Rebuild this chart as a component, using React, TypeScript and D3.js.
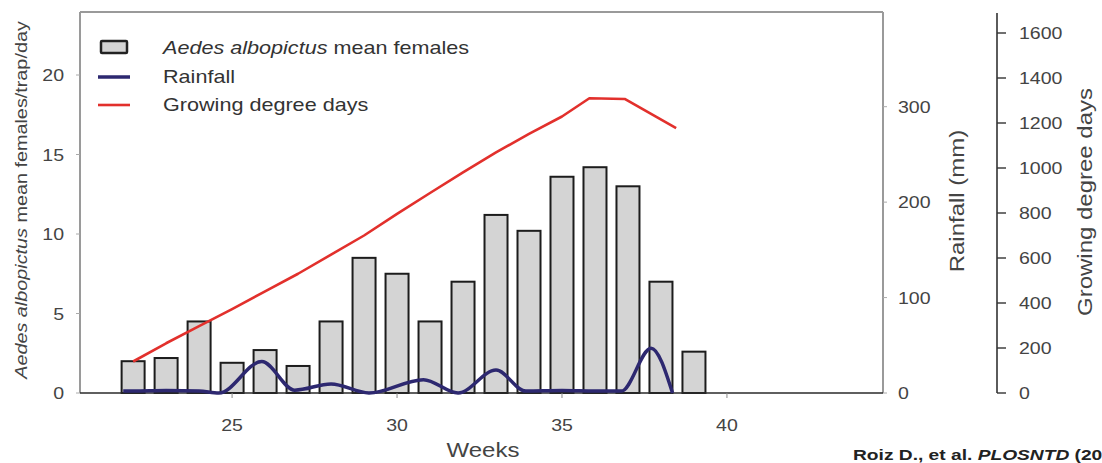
import React from "react";
import * as d3 from "d3";

// ---- data ----
const weeks = [22, 23, 24, 25, 26, 27, 28, 29, 30, 31, 32, 33, 34, 35, 36, 37, 38, 39];
const femaleMeans = [2.0, 2.2, 4.5, 1.9, 2.7, 1.7, 4.5, 8.5, 7.5, 4.5, 7.0, 11.2, 10.2, 13.6, 14.2, 13.0, 7.0, 2.6];

const rainWeeks = [21.7, 22, 23, 24, 24.6, 25.9, 26.9, 28.0, 29.15, 30.8, 31.85, 33.0, 33.9, 35, 36, 36.8, 37.7, 38.35];
const rainfall = [2, 2, 2.5, 2, 0, 33, 3, 9.5, 0, 14, 0, 24, 2, 2.5, 2, 2, 47, 0];

const gddWeeks = [22, 23, 24, 25, 26, 27, 28, 29, 30, 31, 32, 33, 34, 35, 35.83, 36.9, 38.46];
const gdd = [140, 221, 297, 373, 452, 530, 615, 700, 796, 889, 981, 1069, 1152, 1229, 1310, 1307, 1177];

const leftTicks = [0, 5, 10, 15, 20];
const rainTicks = [0, 100, 200, 300];
const gddTicks = [0, 200, 400, 600, 800, 1000, 1200, 1400, 1600];
const weekTicks = [25, 30, 35, 40];

const FONT = "'Liberation Sans', Arial, Helvetica, sans-serif";

export default function App() {
  const W = 1102;
  const H = 463;
  const x0 = 80, x1 = 883, yTop = 12, yBot = 393;
  const x = d3.scaleLinear().domain([20.39, 44.73]).range([x0, x1]);
  const yL = d3.scaleLinear().domain([0, 24]).range([yBot, yBot - 24 * 15.9]);
  const yR = d3.scaleLinear().domain([0, 300]).range([yBot, 106.7]);
  const yG = d3.scaleLinear().domain([0, 1600]).range([yBot, 33]);

  const rainLine = d3
    .line<number>()
    .x((_, i) => x(rainWeeks[i]))
    .y((d) => yR(d))
    .curve(d3.curveMonotoneX)(rainfall) as string;

  const gddLine = d3
    .line<number>()
    .x((_, i) => x(gddWeeks[i]))
    .y((d) => yG(d))(gdd) as string;

  const barW = 23;
  const gAxisX = 997;

  return (
    <svg
      width={W}
      height={H}
      style={{ position: "absolute", left: 0, top: 0, background: "#fff", fontFamily: FONT }}
    >
      <rect x={0} y={0} width={W} height={H} fill="#fff" />

      {/* frame */}
      <line x1={x0} y1={yTop} x2={x1} y2={yTop} stroke="#9a9a9a" strokeWidth={2} />
      <line x1={x0} y1={yTop} x2={x0} y2={yBot} stroke="#9a9a9a" strokeWidth={2} />
      <line x1={x1} y1={yTop} x2={x1} y2={yBot} stroke="#9a9a9a" strokeWidth={2} />

      {/* bars */}
      {weeks.map((w, i) => (
        <rect
          key={w}
          x={x(w) - barW / 2}
          y={yL(femaleMeans[i])}
          width={barW}
          height={yL(0) - yL(femaleMeans[i])}
          fill="#d4d4d4"
          stroke="#1c1c1c"
          strokeWidth={2}
        />
      ))}

      {/* bottom axis */}
      <line x1={x0} y1={yBot} x2={x1} y2={yBot} stroke="#2a2a2a" strokeWidth={1.6} />
      {weekTicks.map((t) => (
        <g key={t}>
          <line x1={x(t)} y1={yBot} x2={x(t)} y2={yBot + 5} stroke="#888" strokeWidth={1} />
          <g transform={`translate(${x(t)},431) scale(1.15,1)`}>
            <text textAnchor="middle" fontSize={17} fill="#444">
              {t}
            </text>
          </g>
        </g>
      ))}
      <g transform={`translate(483,457) scale(1.2,1)`}>
        <text textAnchor="middle" fontSize={20} fill="#444">
          Weeks
        </text>
      </g>

      {/* rainfall line */}
      <path d={rainLine} fill="none" stroke="#2d2870" strokeWidth={3.5} strokeLinejoin="round" />
      {/* GDD line */}
      <path d={gddLine} fill="none" stroke="#e2302c" strokeWidth={2.6} strokeLinejoin="round" />

      {/* left axis */}
      {leftTicks.map((t) => (
        <g key={t}>
          <line x1={x0 - 4} y1={yL(t)} x2={x0} y2={yL(t)} stroke="#aaa" strokeWidth={1} />
          <g transform={`translate(64,${yL(t)}) scale(1.15,1)`}>
            <text textAnchor="end" dy="0.36em" fontSize={17} fill="#444">
              {t}
            </text>
          </g>
        </g>
      ))}
      <g transform={`translate(21,200) rotate(-90) scale(1.2,1)`}>
        <text textAnchor="middle" dy="0.35em" fontSize={16.5} fill="#444">
          <tspan fontStyle="italic">Aedes albopictus</tspan>
          <tspan> mean females/trap/day</tspan>
        </text>
      </g>

      {/* rainfall axis */}
      {rainTicks.map((t) => (
        <g key={t}>
          <line x1={x1} y1={yR(t)} x2={x1 + 4} y2={yR(t)} stroke="#aaa" strokeWidth={1} />
          <g transform={`translate(898,${yR(t)}) scale(1.15,1)`}>
            <text textAnchor="start" dy="0.36em" fontSize={17} fill="#444">
              {t}
            </text>
          </g>
        </g>
      ))}
      <g transform={`translate(957,201) rotate(-90) scale(1.2,1)`}>
        <text textAnchor="middle" dy="0.35em" fontSize={20} fill="#444">
          Rainfall (mm)
        </text>
      </g>

      {/* GDD axis */}
      <line x1={gAxisX} y1={13} x2={gAxisX} y2={yBot} stroke="#333" strokeWidth={1.6} />
      {gddTicks.map((t) => (
        <g key={t}>
          <line x1={gAxisX} y1={yG(t)} x2={gAxisX + 9} y2={yG(t)} stroke="#333" strokeWidth={1.4} />
          <g transform={`translate(1019,${yG(t)}) scale(1.15,1)`}>
            <text textAnchor="start" dy="0.36em" fontSize={17} fill="#444">
              {t}
            </text>
          </g>
        </g>
      ))}
      <g transform={`translate(1085,202) rotate(-90) scale(1.2,1)`}>
        <text textAnchor="middle" dy="0.35em" fontSize={20} fill="#444">
          Growing degree days
        </text>
      </g>

      {/* legend */}
      <rect x={101} y={41} width={26} height={12} fill="#d4d4d4" stroke="#222" strokeWidth={2.5} rx={1} />
      <line x1={98} y1={77} x2={130} y2={77} stroke="#2d2870" strokeWidth={3.5} />
      <line x1={98} y1={105} x2={130} y2={105} stroke="#e2302c" strokeWidth={2.6} />
      <g transform="translate(163,54) scale(1.2,1)">
        <text fontSize={18} fill="#333">
          <tspan fontStyle="italic">Aedes albopictus</tspan>
          <tspan> mean females</tspan>
        </text>
      </g>
      <g transform="translate(163,83) scale(1.2,1)">
        <text fontSize={18} fill="#333">
          Rainfall
        </text>
      </g>
      <g transform="translate(163,111) scale(1.2,1)">
        <text fontSize={18} fill="#333">
          Growing degree days
        </text>
      </g>

      {/* citation (cut at the right edge, as in the source image) */}
      <g transform="translate(853,460) scale(1.37,1)">
        <text fontSize={14} fontWeight="bold" fill="#222">
          <tspan>Roiz D., et al. </tspan>
          <tspan fontStyle="italic">PLOSNTD</tspan>
          <tspan> (2014)</tspan>
        </text>
      </g>
    </svg>
  );
}
